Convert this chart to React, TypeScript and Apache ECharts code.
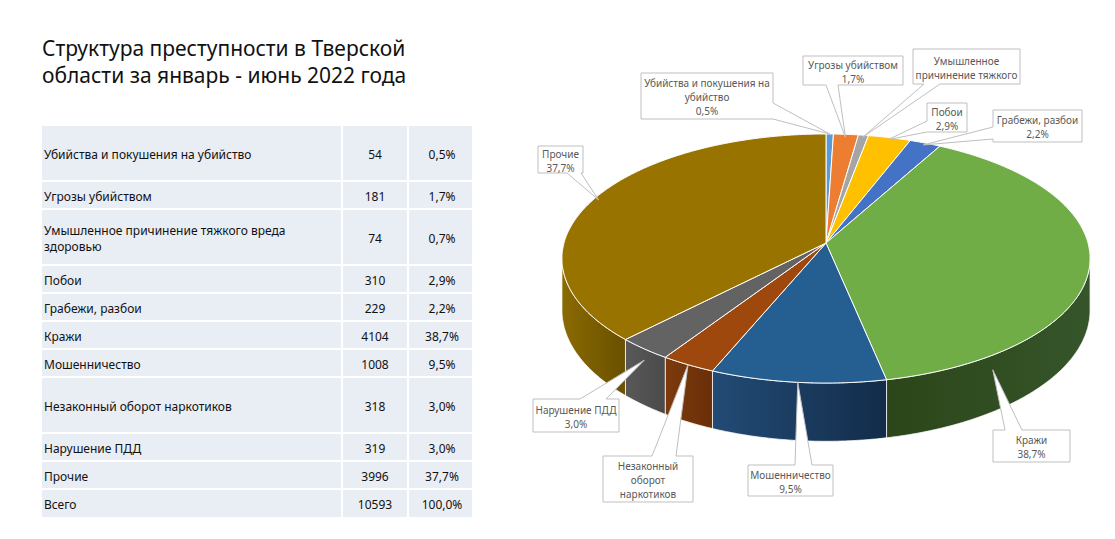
import React, { useEffect, useRef } from "react";
import * as echarts from "echarts";

// ---------- data ----------
const titleLines = ["Структура преступности в Тверской", "области за январь - июнь 2022 года"];
const categories = [
  "Убийства и покушения на убийство",
  "Угрозы убийством",
  "Умышленное причинение тяжкого вреда здоровью",
  "Побои",
  "Грабежи, разбои",
  "Кражи",
  "Мошенничество",
  "Незаконный оборот наркотиков",
  "Нарушение ПДД",
  "Прочие",
];
const tableRowLabels = [
  "Убийства и покушения на убийство",
  "Угрозы убийством",
  "Умышленное причинение тяжкого вреда\nздоровью",
  "Побои",
  "Грабежи, разбои",
  "Кражи",
  "Мошенничество",
  "Незаконный оборот наркотиков",
  "Нарушение ПДД",
  "Прочие",
];
const values = [54, 181, 74, 310, 229, 4104, 1008, 318, 319, 3996];
const totalLabel = "Всего";
const pieLabelLines = [
  ["Убийства и покушения на", "убийство"],
  ["Угрозы убийством"],
  ["Умышленное", "причинение тяжкого"],
  ["Побои"],
  ["Грабежи, разбои"],
  ["Кражи"],
  ["Мошенничество"],
  ["Незаконный", "оборот", "наркотиков"],
  ["Нарушение ПДД"],
  ["Прочие"],
];
const pieLabelShowPct = [true, true, false, true, true, true, true, false, true, true];

// ---------- styles / layout ----------
const topColors = ["#5B9BD5", "#ED7D31", "#A5A5A5", "#FFC000", "#4472C4", "#70AD47", "#255E91", "#9E480E", "#636363", "#997300"];
const sideColors = [
  ["#3d6f9c", "#2f5a80"],
  ["#b35a20", "#944818"],
  ["#7a7a7a", "#666666"],
  ["#bf9000", "#a07800"],
  ["#2f5597", "#24447a"],
  ["#2b4619", "#36552a"],
  ["#224b75", "#132c4a"],
  ["#7d3a0c", "#692f09"],
  ["#595959", "#4a4a4a"],
  ["#8a6a00", "#6a5000"],
];
const FONT = "'Noto Sans', 'Open Sans', 'DejaVu Sans', sans-serif";
const CX = 826, CY = 243, RX = 262, RY = 122.6, PK = 0.1245, DEPTH = 51;

// callout boxes: [x0, y0, x1, y1], tail edge, tail base [a, b], tip: [fraction in slice, radius, down]
const callouts: any[] = [
  { box: [641, 73, 773, 119], edge: "right", base: [103, 119], tip: [0.5, 1, 0] },
  { box: [803, 56, 903, 85], edge: "bottom", base: [826, 838], tip: [0.5, 0.97, 0] },
  { box: [913, 49, 1020, 84], edge: "bottom", base: [924, 940], tip: [0.5, 0.98, 0] },
  { box: [927, 103, 967, 132], edge: "left", base: [121, 132], tip: [0.5, 0.98, 0] },
  { box: [993, 110, 1082, 142], edge: "left", base: [127, 139], tip: [0.5, 0.98, 0] },
  { box: [993, 430, 1070, 462], edge: "top", base: [1005, 1022], tip: [0.834, 1, 0.26] },
  { box: [748, 465, 833, 496], edge: "top", base: [795, 812], tip: [0.5, 1, 0] },
  { box: [603, 456, 693, 502], edge: "top", base: [652, 676], tip: [0.5, 1, 0] },
  { box: [533, 399, 619, 432], edge: "top", base: [580, 606], tip: [0.5, 1, 0.2] },
  { box: [538, 146, 583, 173], edge: "bottom", base: [567, 581], tip: [0.5, 0.98, 0] },
];

const rowTops = [126, 181, 209, 265, 293, 321, 349, 377, 433, 461, 489, 517];
const colX = [42, 342, 408, 472];

// ---------- helpers ----------
const total = values.reduce((a, b) => a + b, 0);
const fmtPct = (v: number) => ((v / total) * 100).toFixed(1).replace(".", ",") + "%";
const startFrac = (i: number) => values.slice(0, i).reduce((a, b) => a + b, 0) / total;

function proj(t: number, r: number, down: number): number[] {
  const X = Math.sin(t) * r;
  const Z = Math.cos(t) * r;
  const s = 1 / (1 + PK * Z);
  return [CX + RX * X * s, CY - RY * Z * s + down * DEPTH * s];
}
function arc(t1: number, t2: number, down: number): number[][] {
  const n = Math.max(2, Math.ceil((t2 - t1) / (Math.PI / 360)));
  const pts: number[][] = [];
  for (let k = 0; k <= n; k++) pts.push(proj(t1 + ((t2 - t1) * k) / n, 1, down));
  return pts;
}
const SIDE_LO = Math.acos(-PK);
const SIDE_HI = 2 * Math.PI - SIDE_LO;

function sliceAngles(i: number, v: number) {
  const a0 = startFrac(i) * 2 * Math.PI;
  const a1 = a0 + (v / total) * 2 * Math.PI;
  return [a0, a1];
}

function renderSide(params: any, api: any) {
  const i = params.dataIndex;
  const [a0, a1] = sliceAngles(i, api.value(0));
  const s = Math.max(a0, SIDE_LO);
  const e = Math.min(a1, SIDE_HI);
  if (e <= s) return { type: "group", children: [] };
  const pts = arc(s, e, 0).concat(arc(s, e, 1).reverse());
  return {
    type: "polygon",
    shape: { points: pts },
    style: {
      fill: new echarts.graphic.LinearGradient(0, 0, 1, 0, [
        { offset: 0, color: sideColors[i][0] },
        { offset: 1, color: sideColors[i][1] },
      ]),
      stroke: "rgba(255,255,255,0.75)",
      lineWidth: 1,
    },
  };
}

function renderTop(params: any, api: any) {
  const i = params.dataIndex;
  const [a0, a1] = sliceAngles(i, api.value(0));
  const pts = [[CX, CY]].concat(arc(a0, a1, 0));
  return {
    type: "polygon",
    shape: { points: pts },
    style: { fill: topColors[i], stroke: "#ffffff", lineWidth: 1, lineJoin: "round" },
  };
}

function renderCallout(params: any, api: any) {
  const i = params.dataIndex;
  const v = api.value(0);
  const [a0, a1] = sliceAngles(i, v);
  const c = callouts[i];
  const [fr, rr, dn] = c.tip;
  const tip = proj(a0 + (a1 - a0) * fr, rr, dn);
  const [x0, y0, x1, y1] = c.box;
  const [a, b] = c.base;
  let pts: number[][];
  if (c.edge === "top") pts = [[x0, y0], [a, y0], tip, [b, y0], [x1, y0], [x1, y1], [x0, y1]];
  else if (c.edge === "bottom") pts = [[x0, y0], [x1, y0], [x1, y1], [b, y1], tip, [a, y1], [x0, y1]];
  else if (c.edge === "left") pts = [[x0, y0], [x1, y0], [x1, y1], [x0, y1], [x0, b], tip, [x0, a]];
  else pts = [[x0, y0], [x1, y0], [x1, a], tip, [x1, b], [x1, y1], [x0, y1]];
  const lines = pieLabelLines[i].slice();
  if (pieLabelShowPct[i]) lines.push(fmtPct(v));
  return {
    type: "group",
    children: [
      {
        type: "polygon",
        shape: { points: pts },
        style: { fill: "#ffffff", stroke: "#BFBFBF", lineWidth: 1 },
      },
      {
        type: "text",
        x: (x0 + x1) / 2,
        y: (y0 + y1) / 2 + 1,
        style: {
          text: lines.join("\n"),
          fill: "#595959",
          fontSize: 10,
          fontFamily: FONT,
          lineHeight: 14,
          align: "center",
          verticalAlign: "middle",
          textAlign: "center",
          textVerticalAlign: "middle",
        },
      },
    ],
  };
}

function buildGraphic() {
  const els: any[] = [];
  titleLines.forEach((t, k) => {
    els.push({
      type: "text",
      x: 42,
      y: 48 + k * 27,
      style: {
        text: t,
        fill: "#111111",
        fontSize: 21,
        fontFamily: FONT,
        align: "left",
        verticalAlign: "middle",
        textAlign: "left",
        textVerticalAlign: "middle",
      },
    });
  });
  const top = rowTops[0];
  const bottom = rowTops[rowTops.length - 1];
  els.push({
    type: "rect",
    shape: { x: colX[0], y: top, width: colX[3] - colX[0], height: bottom - top },
    style: { fill: "#E9EDF4" },
  });
  for (let k = 1; k < rowTops.length - 1; k++) {
    els.push({
      type: "line",
      shape: { x1: colX[0], y1: rowTops[k], x2: colX[3], y2: rowTops[k] },
      style: { stroke: "#ffffff", lineWidth: 2 },
    });
  }
  [colX[1], colX[2]].forEach((x) => {
    els.push({
      type: "line",
      shape: { x1: x, y1: top, x2: x, y2: bottom },
      style: { stroke: "#ffffff", lineWidth: 2 },
    });
  });
  const rows = tableRowLabels.map((l, i) => [l, String(values[i]), fmtPct(values[i])]);
  rows.push([totalLabel, String(total), "100,0%"]);
  rows.forEach((r, i) => {
    const yc = (rowTops[i] + rowTops[i + 1]) / 2 + 1;
    const base = { fill: "#111111", fontSize: 12, fontFamily: FONT, lineHeight: 16, verticalAlign: "middle", textVerticalAlign: "middle" };
    els.push({ type: "text", x: colX[0] + 2, y: yc, style: { ...base, text: r[0], align: "left", textAlign: "left" } });
    els.push({ type: "text", x: (colX[1] + colX[2]) / 2, y: yc, style: { ...base, text: r[1], align: "center", textAlign: "center" } });
    els.push({ type: "text", x: (colX[2] + colX[3]) / 2 + 2, y: yc, style: { ...base, text: r[2], align: "center", textAlign: "center" } });
  });
  return els;
}

export default function App() {
  const ref = useRef<HTMLDivElement>(null);
  useEffect(() => {
    if (!ref.current) return;
    const chart = echarts.init(ref.current, undefined, { renderer: "svg" });
    const data = values.map((v, i) => ({ name: categories[i], value: v }));
    chart.setOption({
      animation: false,
      backgroundColor: "#ffffff",
      graphic: { elements: buildGraphic() },
      series: [
        { type: "custom", coordinateSystem: "none", silent: true, z: 2, data, renderItem: renderSide },
        { type: "custom", coordinateSystem: "none", silent: true, z: 3, data, renderItem: renderTop },
        { type: "custom", coordinateSystem: "none", silent: true, z: 4, data, renderItem: renderCallout },
      ],
    });
    return () => chart.dispose();
  }, []);
  return (
    <div
      ref={ref}
      style={{ position: "absolute", left: 0, top: 0, width: 1115, height: 539, background: "#fff" }}
    />
  );
}
